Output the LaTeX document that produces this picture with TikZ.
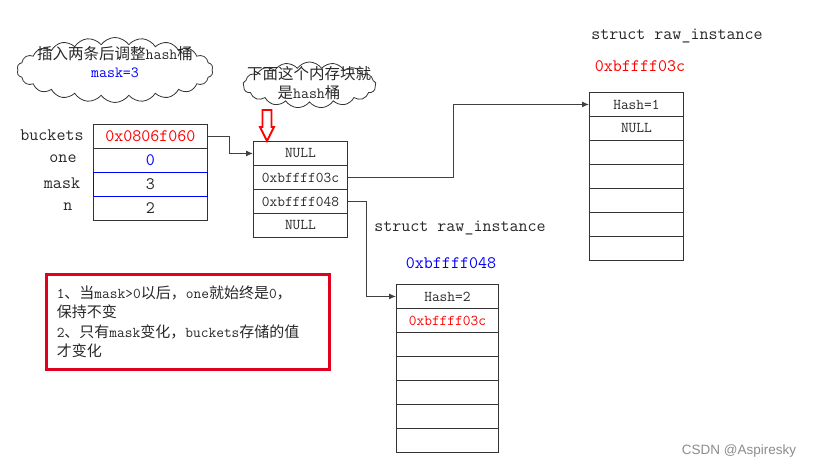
\documentclass[tikz,border=0pt]{standalone}
\usepackage{fontspec}
\newfontfamily\cjk{Noto Sans CJK SC}
\newfontfamily\wmfont{Liberation Sans}
\newcommand\zh[1]{{\cjk #1}}
\usetikzlibrary{shapes.symbols,arrows.meta}
\definecolor{boxred}{RGB}{225,0,30}
\definecolor{txtgray}{RGB}{40,40,40}
\begin{document}
\begin{tikzpicture}[x=1pt,y=-1pt,
  cellbase/.style={draw=black!80, line width=0.9pt, rectangle, minimum height=24pt, inner sep=0pt, anchor=north west, text=txtgray},
  lcell/.style={cellbase, minimum width=114pt, font=\fontsize{17.5}{20}\ttfamily},
  mcell/.style={cellbase, minimum width=94pt, font=\fontsize{15}{18}\ttfamily},
  bcell/.style={cellbase, minimum width=102pt, font=\fontsize{15}{18}\ttfamily},
  lbl/.style={font=\fontsize{17.5}{20}\ttfamily, inner sep=0pt, text=txtgray},
  conn/.style={draw=black!75, line width=1pt, -{Latex[length=7pt,width=6pt]}},
  cloudshape/.style={cloud, draw=black!80, line width=0.8pt, cloud puffs=#1, cloud puff arc=110, inner sep=0pt, cloud ignores aspect},
  cloudtext/.style={font=\fontsize{15.5}{19}\ttfamily, inner sep=0pt, text=txtgray, align=center}]
\useasboundingbox (0,0) rectangle (814,468);

% clouds
\node[cloudshape=22, minimum width=196pt, minimum height=65pt] (c1) at (115,70) {};
\node[cloudtext] (c1a) at (115,54) {\zh{插入两条后调整}hash\zh{桶}};
\node[cloudtext, text=blue] (c1b) at (115,73) {mask=3};

\node[cloudshape=17, minimum width=133pt, minimum height=46pt] (c2) at (309.5,85) {};
\node[cloudtext] (c2a) at (309,74) {\zh{下面这个内存块就}};
\node[cloudtext] (c2b) at (309,93) {\zh{是}hash\zh{桶}};

% left table
\node[lcell, text=red] (b) at (93,124) {0x0806f060};
\node[lcell, text=blue] (o) at (93,148) {0};
\node[lcell] (k) at (93,172) {3};
\node[lcell] (n) at (93,196) {2};
\draw[blue, line width=0.9pt] (k.north west) rectangle (k.south east);
\node[lbl] (lb) at (52,135) {buckets};
\node[lbl] (lo) at (63,159) {one};
\node[lbl] (lk) at (62,183) {mask};
\node[lbl] (ln) at (68,207) {n};

% middle table (hash buckets)
\node[mcell] (m1) at (253,141) {NULL};
\node[mcell] (m2) at (253,165) {0xbffff03c};
\node[mcell] (m3) at (253,189) {0xbffff048};
\node[mcell] (m4) at (253,213) {NULL};

% red hollow arrow
\draw[red, line width=1.8pt, line join=miter] (262.5,110) -- (271.5,110) -- (271.5,127) -- (274,127) -- (267,141) -- (260,127) -- (262.5,127) -- cycle;

% right struct
\node[lbl] (rt) at (677,36) {struct raw\_instance};
\node[lbl, text=red] (ra) at (640,66) {0xbffff03c};
\node[mcell] (r1) at (589,92) {Hash=1};
\node[mcell] (r2) at (589,116) {NULL};
\foreach \i/\yy in {3/140,4/164,5/188,6/212,7/236}
  \node[mcell] (r\i) at (589,\yy) {};

% bottom struct
\node[lbl] (st) at (460,228) {struct raw\_instance};
\node[lbl, text=blue] (sa) at (451,263) {0xbffff048};
\node[bcell] (s1) at (396,284) {Hash=2};
\node[bcell, text=red] (s2) at (396,308) {0xbffff03c};
\foreach \i/\yy in {3/332,4/356,5/380,6/404,7/428}
  \node[bcell] (s\i) at (396,\yy) {};

% connectors
\draw[conn] (b.east) -- ++(22,0) |- (m1.west);
\draw[conn] (m2.east) -- ++(106,0) |- (r1.west);
\draw[conn] (m3.east) -- ++(19,0) |- (s1.west);

% note box
\node[draw=boxred, line width=2.5pt, anchor=north west, minimum width=283pt, minimum height=95pt,
      text width=262pt, align=left, inner xsep=10pt, inner ysep=0pt, text=txtgray,
      font=\fontsize{15}{19.5}\ttfamily] (note) at (45,273)
  {1\zh{、当}mask>0\zh{以后，}one\zh{就始终是}0\zh{，}\\
   \zh{保持不变}\\
   2\zh{、只有}mask\zh{变化，}buckets\zh{存储的值}\\
   \zh{才变化}};

% watermark
\node[font=\fontsize{13.5}{16}\wmfont, text=black!45, inner sep=0pt] (wm) at (739,451) {CSDN @Aspiresky};
\end{tikzpicture}
\end{document}
